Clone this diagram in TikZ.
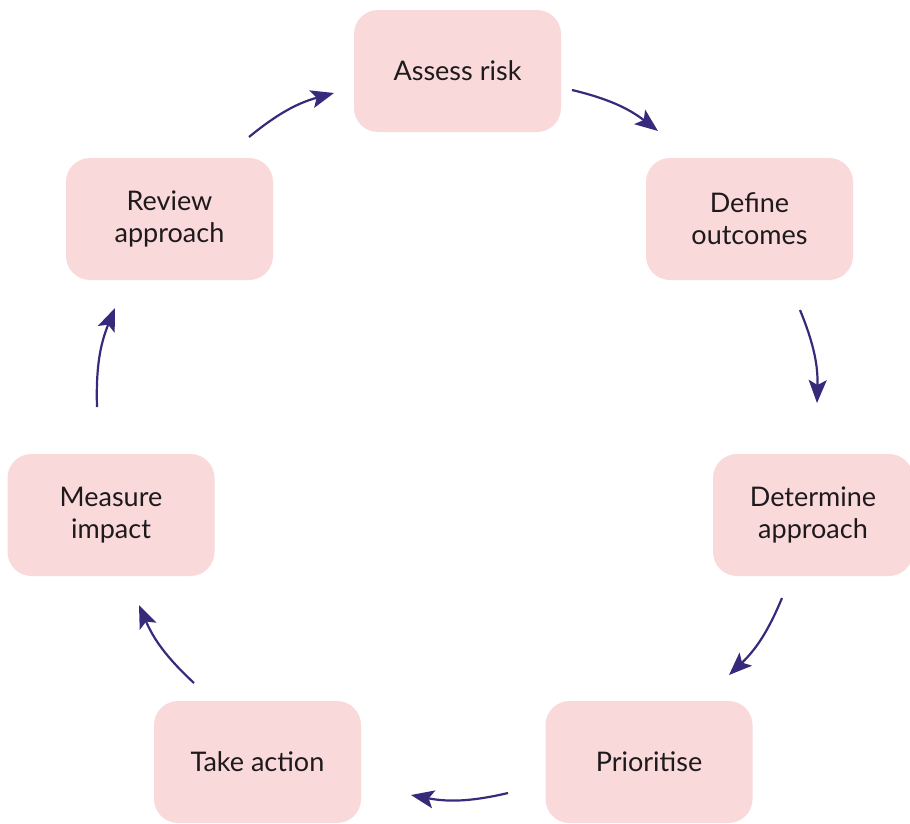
\documentclass[tikz,border=0pt]{standalone}
\usepackage{fontspec}
\setmainfont{Lato}
\usetikzlibrary{arrows.meta}
\definecolor{boxfill}{HTML}{F9D9DA}
\definecolor{arrowcol}{HTML}{372A7B}
\definecolor{textcol}{HTML}{1E1A1B}
\tikzset{
  stepbox/.style={draw=none, fill=boxfill, rounded corners=24pt, minimum width=207pt, minimum height=122pt, align=center, font=\fontsize{27}{32}\selectfont, text=textcol, inner sep=0pt},
  cyclearrow/.style={draw=arrowcol, line width=2.2pt, -{Stealth[length=23pt,width=18pt,inset=5pt]}, bend left=12}
}
\begin{document}
\begin{tikzpicture}[x=1pt,y=-1pt]
\useasboundingbox (0,0) rectangle (910,823);
\node[stepbox] (assess) at (457.5,71) {Assess risk};
\node[stepbox] (define) at (749.5,219) {Define\\outcomes};
\node[stepbox, minimum width=200pt] (determine) at (813,515) {Determine\\approach};
\node[stepbox] (prior) at (649,762) {Prioritise};
\node[stepbox] (take) at (257.5,762) {Take action};
\node[stepbox] (measure) at (111,515) {Measure\\impact};
\node[stepbox] (review) at (169.5,219) {Review\\approach};

\coordinate (a1s) at (572,90);  \coordinate (a1e) at (658,131);
\coordinate (a2s) at (800,310); \coordinate (a2e) at (817,403);
\coordinate (a3s) at (782,598); \coordinate (a3e) at (729,675);
\coordinate (a4s) at (508,793); \coordinate (a4e) at (411,795);
\coordinate (a5s) at (194,683); \coordinate (a5e) at (139,605);
\coordinate (a6s) at (97,407);  \coordinate (a6e) at (115,308);
\coordinate (a7s) at (249,137); \coordinate (a7e) at (334,93);

\draw[cyclearrow] (a1s) to (a1e);
\draw[cyclearrow] (a2s) to (a2e);
\draw[cyclearrow] (a3s) to (a3e);
\draw[cyclearrow] (a4s) to (a4e);
\draw[cyclearrow] (a5s) to (a5e);
\draw[cyclearrow] (a6s) to (a6e);
\draw[cyclearrow] (a7s) to (a7e);
\end{tikzpicture}
\end{document}
